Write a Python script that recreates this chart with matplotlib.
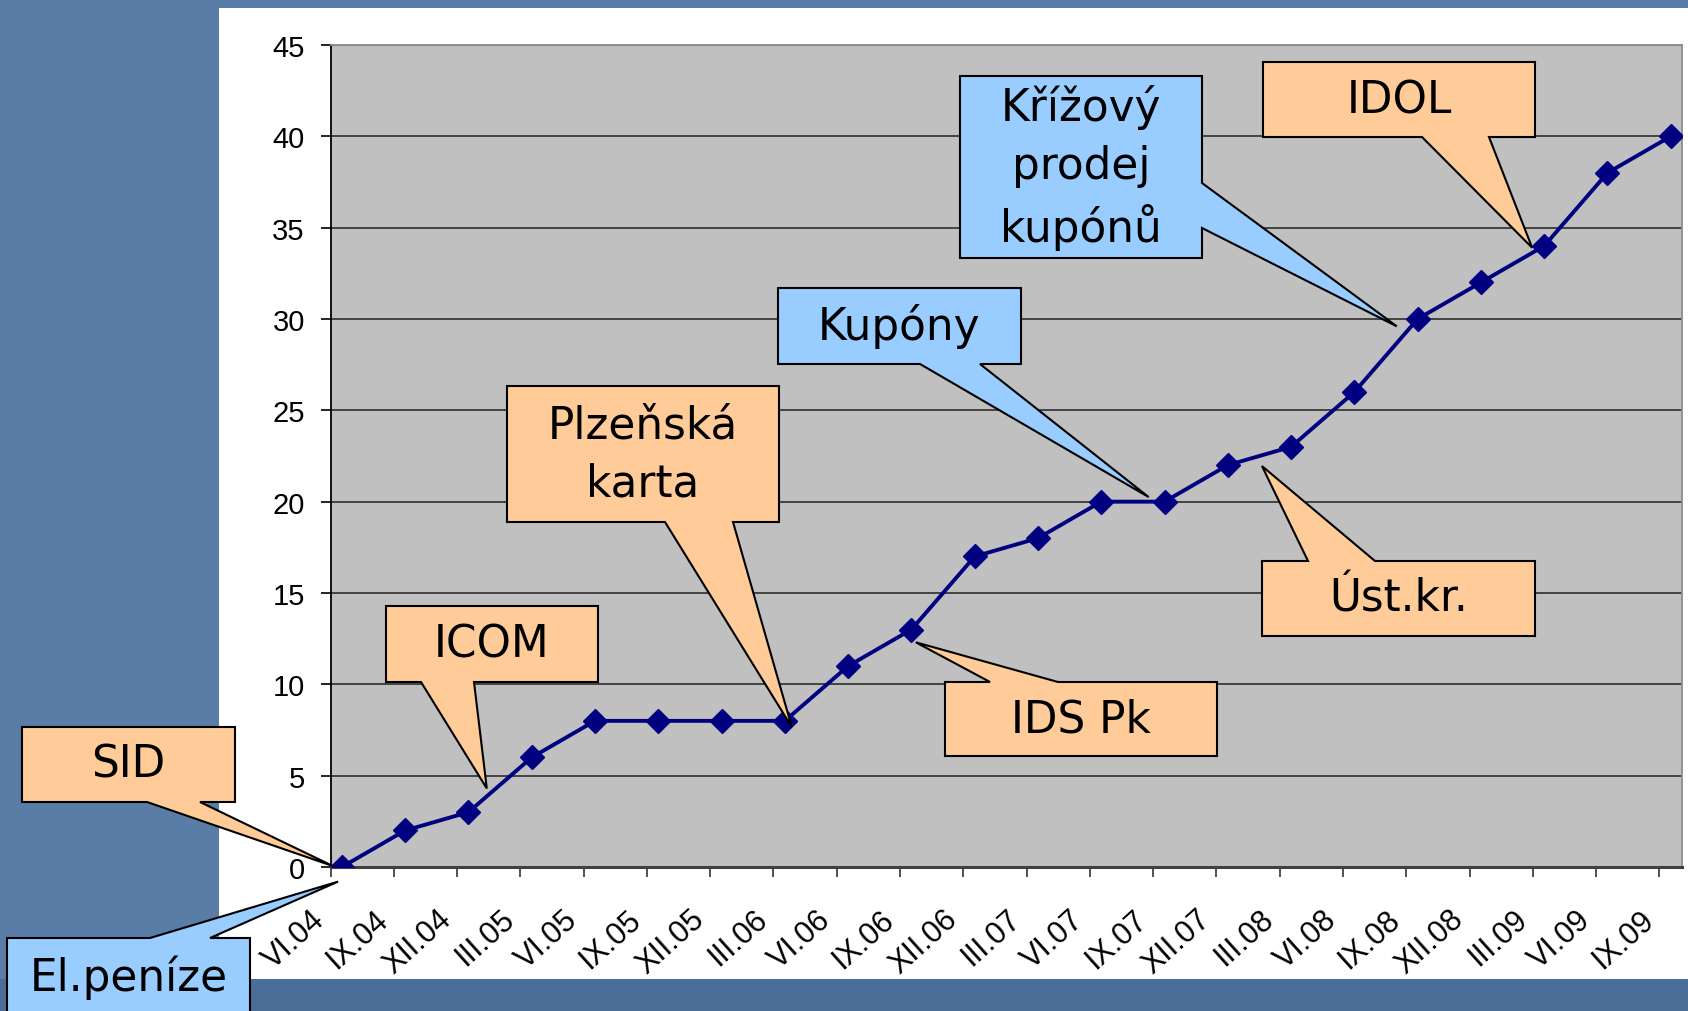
import matplotlib
matplotlib.use("Agg")
import matplotlib.pyplot as plt
from matplotlib.patches import Rectangle, Polygon
from matplotlib.transforms import Affine2D

W, H = 1688, 1012

periods = ["VI.04", "IX.04", "XII.04", "III.05", "VI.05", "IX.05", "XII.05", "III.06",
           "VI.06", "IX.06", "XII.06", "III.07", "VI.07", "IX.07", "XII.07", "III.08",
           "VI.08", "IX.08", "XII.08", "III.09", "VI.09", "IX.09"]
values = [0, 2, 3, 6, 8, 8, 8, 8, 11, 13, 17, 18, 20, 20, 22, 23, 26, 30, 32, 34, 38, 40]
y_ticks = [0, 5, 10, 15, 20, 25, 30, 35, 40, 45]

# callouts: text, fill, box (px, top-down), tail side and base, tip in data coords
callout_text = ["SID", "El.peníze", "ICOM", "Plzeňská\nkarta", "Kupóny",
                "Křížový\nprodej\nkupónů", "IDOL", "Úst.kr.", "IDS Pk"]
callout_fill = ["#FFCC99", "#99CCFF", "#FFCC99", "#FFCC99", "#99CCFF",
                "#99CCFF", "#FFCC99", "#FFCC99", "#FFCC99"]
callout_box = [(22, 728, 235, 803), (7, 939, 250, 1040), (386, 607, 598, 683),
               (507, 387, 779, 523), (778, 289, 1021, 365), (960, 77, 1202, 259),
               (1263, 63, 1535, 138), (1262, 562, 1535, 637), (945, 683, 1217, 757)]
callout_tail = [("bottom", 147, 200), ("top", 150, 210), ("bottom", 421, 474),
                ("bottom", 665, 733), ("bottom", 920, 980), ("right", 184, 229),
                ("bottom", 1422, 1489), ("top", 1308, 1375), ("top", 990, 1058)]
callout_tip = [(-0.14, 0.05), (-0.06, -0.8), (2.29, 4.3), (7.11, 7.66), (12.75, 20.25),
               (16.67, 29.6), (18.81, 33.9), (14.54, 21.95), (9.07, 12.3)]

fig = plt.figure(figsize=(W / 100, H / 100), dpi=100)
fig.patch.set_facecolor("#597DA6")
px = Affine2D().scale(1 / W, -1 / H).translate(0, 1) + fig.transFigure

fig.patches.append(Rectangle((0, 980), W, 40, transform=px, facecolor="#4B6E98",
                             edgecolor="none", zorder=-20))
fig.patches.append(Rectangle((219, 9), W - 219, 971, transform=px, facecolor="white",
                             edgecolor="none", zorder=-10))

ax = fig.add_axes([330.5 / W, (H - 868) / H, (1681.5 - 330.5) / W, (868 - 46) / H])
ax.set_facecolor("#C0C0C0")
x = list(range(len(periods)))
ax.plot(x, values, color="#000080", lw=2.8, marker="D", ms=12, zorder=3)

ax.set_xlim(-0.18, len(periods) - 1 + 0.17)
ax.set_ylim(0, 45)
ax.set_yticks(y_ticks)
ax.set_yticklabels([str(v) for v in y_ticks], family="Liberation Sans", fontsize=21)
ax.set_xticks([i - 0.18 for i in x])
ax.set_xticklabels(periods, rotation=42, ha="right", va="top",
                   family="Liberation Sans", fontsize=22)
ax.tick_params(axis="y", direction="out", length=7.5, width=1.2, pad=11)
ax.tick_params(axis="x", direction="out", length=7.5, width=1.2, pad=19, color="#333333")
ax.yaxis.grid(True, color="#2E2E2E", lw=1.2)
ax.set_axisbelow(True)
ax.spines["left"].set_color("black")
ax.spines["left"].set_linewidth(1.3)
ax.spines["bottom"].set_color("#404040")
ax.spines["bottom"].set_linewidth(2.2)
for s in ("top", "right"):
    ax.spines[s].set_color("#8C8C8C")
    ax.spines[s].set_linewidth(1.3)


def shape(box, tail, tip):
    x0, y0, x1, y1 = box
    side, a, b = tail
    if side == "bottom":
        return [(x0, y0), (x1, y0), (x1, y1), (b, y1), tip, (a, y1), (x0, y1)]
    if side == "top":
        return [(x0, y0), (a, y0), tip, (b, y0), (x1, y0), (x1, y1), (x0, y1)]
    return [(x0, y0), (x1, y0), (x1, a), tip, (x1, b), (x1, y1), (x0, y1)]


for text, fill, box, tail, tip in zip(callout_text, callout_fill, callout_box,
                                      callout_tail, callout_tip):
    dx, dy = ax.transData.transform(tip)
    pts = shape(box, tail, (dx, H - dy))
    fig.patches.append(Polygon(pts, closed=True, transform=px, facecolor=fill,
                               edgecolor="black", lw=1.5, zorder=10))
    cx = (box[0] + box[2]) / 2
    cy = (box[1] + box[3]) / 2 if box[3] < H else 978
    fig.text(cx, cy, text, transform=px, ha="center", va="center", ma="center",
             fontsize=31.5, family="DejaVu Sans", linespacing=1.42, zorder=11)

fig.savefig("out.png", dpi=100, facecolor=fig.get_facecolor())
